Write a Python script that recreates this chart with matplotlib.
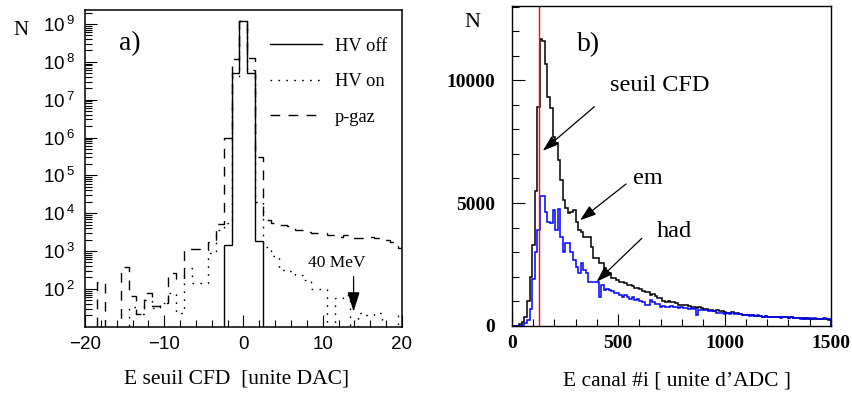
import numpy as np
import matplotlib
matplotlib.use('Agg')
import matplotlib.pyplot as plt
from matplotlib.lines import Line2D
from matplotlib.ticker import FixedLocator, MultipleLocator, NullFormatter, FuncFormatter

plt.rcParams['font.family'] = 'serif'
plt.rcParams['font.serif'] = ['Liberation Serif', 'DejaVu Serif']
plt.rcParams['mathtext.default'] = 'regular'

# ---- panel a) : E seuil CFD, one bin per DAC unit, centres -20..20
dac = np.arange(-20, 21)
hv_off = [0, 0, 0, 0, 0, 0, 0, 0, 0, 0,
          0, 0, 0, 0, 0, 0, 0, 0, 1400, 5e7,
          1.2e9,
          5e7, 1800, 0, 0, 0, 0, 0, 0, 0, 0,
          0, 0, 0, 0, 0, 0, 0, 0, 0, 0]
hv_on = [0, 0, 0, 0, 0, 0, 34, 22, 50, 31,
         43, 80, 23, 350, 147, 147, 890, 3500, 5500, 4e7,
         1.2e9,
         6e7, 2e4, 1250, 720, 310, 300, 235, 175, 100, 100,
         0, 57, 67, 0, 23, 21, 23, 0, 0, 23]
p_gaz = [0, 0, 150, 0, 0, 380, 66, 22, 80, 35,
         43, 270, 180, 1150, 1100, 1050, 1750, 5300, 1e6, 1.2e8,
         1.2e9,
         1.3e8, 3e5, 6500, 5500, 5000, 4500, 3500, 3200, 3000, 3000,
         2600, 2300, 2600, 2200, 2200, 2400, 2200, 2000, 1700, 1200]

# ---- panel b) : E canal #i, 12 ADC units per bin, 0..1500
adc_bin = 12
em = [0, 0, 0, 50, 150, 350, 1000, 2000, 3300, 5500,
      8900, 11700, 11600, 10650, 9330, 8860, 7700, 7430, 6750, 5940,
      5120, 4800, 4580, 4650, 4710, 4240, 3900, 3800, 3630, 3630,
      3600, 3220, 2750, 2750, 2540, 2540, 2350, 2150, 2135, 1930,
      1930, 1850, 1790, 1790, 1760, 1660, 1660, 1620, 1520, 1520,
      1500, 1400, 1385, 1360, 1250, 1280, 1230, 1115, 1115, 1000,
      980, 990, 960, 950, 930, 860, 845, 830, 850, 820,
      760, 750, 740, 770, 720, 700, 680, 640, 650, 620,
      630, 600, 590, 540, 530, 520, 540, 510, 500, 460,
      440, 430, 440, 420, 430, 410, 400, 380, 370, 380,
      365, 360, 370, 350, 360, 340, 350, 340, 330, 340,
      320, 300, 310, 300, 290, 300, 280, 290, 280, 270,
      280, 265, 270, 260, 250]
had = [0, 0, 0, 0, 30, 100, 250, 700, 1900, 3000,
       3900, 5300, 5300, 4650, 4240, 4200, 4700, 3900, 4740, 3600,
       3015, 3360, 3360, 3015, 2680, 2400, 2135, 2540, 2270, 2135,
       1790, 1790, 1790, 1790, 1180, 1660, 1455, 1500, 1455, 1400,
       1320, 1350, 1250, 1180, 1250, 1180, 1100, 1150, 1050, 1080,
       1000, 950, 845, 850, 1050, 950, 900, 880, 775, 800,
       775, 760, 790, 750, 775, 740, 760, 710, 720, 700,
       710, 690, 450, 640, 660, 630, 640, 600, 620, 600,
       520, 500, 530, 490, 510, 480, 500, 470, 490, 460,
       440, 420, 450, 410, 430, 400, 420, 390, 370, 380,
       350, 370, 340, 360, 350, 330, 360, 340, 320, 350,
       330, 300, 320, 290, 310, 280, 300, 270, 310, 280,
       290, 260, 300, 270, 260]
cfd_threshold = 130

fig = plt.figure(figsize=(8.53, 3.95), dpi=100)

# ================= panel a =================
ax1 = fig.add_axes([0.0996, 0.1729, 0.3716, 0.8018])
edges_a = np.append(dac - 0.5, dac[-1] + 0.5)


def clip_zero(v):
    v = np.asarray(v, dtype=float)
    return np.where(v > 0, v, 1.0)


ax1.stairs(clip_zero(p_gaz), edges_a, baseline=None, color='black', lw=1.0,
           linestyle=(0, (7, 6)))
ax1.stairs(clip_zero(hv_on), edges_a, baseline=None, color='black', lw=1.0,
           linestyle=(0, (1.2, 4.5)))
ax1.stairs(clip_zero(hv_off), edges_a, baseline=None, color='black', lw=1.0)

ax1.set_yscale('log')
ax1.set_xlim(-20, 20)
ax1.set_ylim(10, 10 ** 9.37)
ax1.yaxis.set_major_locator(FixedLocator([10.0 ** k for k in range(2, 10)]))
ax1.yaxis.set_minor_locator(FixedLocator(
    [m * 10.0 ** k for k in range(1, 10) for m in range(2, 10)]))
ax1.yaxis.set_major_formatter(FuncFormatter(
    lambda v, p: r'$10^{\,%d}$' % round(np.log10(v))))
ax1.yaxis.set_minor_formatter(NullFormatter())
ax1.xaxis.set_major_locator(MultipleLocator(10))
ax1.xaxis.set_minor_locator(MultipleLocator(2))
ax1.tick_params(which='both', direction='in', width=0.8,
                labelsize=13.5, labelfontfamily='Liberation Sans')
ax1.tick_params(which='major', length=8.5)
ax1.tick_params(which='minor', length=5)
ax1.tick_params(axis='y', pad=7)
ax1.tick_params(axis='x', pad=6.5)
for s in ax1.spines.values():
    s.set_linewidth(1.1)

ax1.set_xlabel('E seuil CFD  [unite DAC]', fontsize=15.5)
ax1.xaxis.set_label_coords(0.479, -0.135)

handles = [Line2D([], [], color='black', lw=1.0),
           Line2D([], [], color='black', lw=1.0, linestyle=(0, (1.2, 4.5))),
           Line2D([], [], color='black', lw=1.0, linestyle=(0, (7, 6)))]
ax1.legend(handles, ['HV off', 'HV on', 'p-gaz'], loc='upper left',
           bbox_to_anchor=(0.584, 0.912), frameon=False, fontsize=13.3,
           handlelength=2.8, handletextpad=0.7, labelspacing=1.0,
           borderpad=0, borderaxespad=0)

ax1.text(0.142, 0.895, 'a)', transform=ax1.transAxes, fontsize=20,
         ha='center', va='center')
fig.text(0.0246, 0.924, 'N', fontsize=15, ha='center', va='center')

ax1.annotate('', xy=(13.9, 25), xytext=(13.9, 212),
             arrowprops=dict(arrowstyle='-|>,head_length=0.8,head_width=0.25',
                             color='black', lw=0.9, shrinkA=0, shrinkB=0,
                             mutation_scale=15))
ax1.text(8.2, 377, '40 MeV', fontsize=12.5, ha='left', va='baseline')

# ================= panel b =================
ax2 = fig.add_axes([0.5999, 0.1754, 0.3743, 0.8094])
edges_b = np.arange(0, adc_bin * len(em) + 1, adc_bin)

ax2.stairs(em, edges_b, color='black', lw=1.1)
ax2.stairs(had, edges_b, color='#0000ff', lw=1.1)
ax2.axvline(cfd_threshold, color='#ff0000', lw=1.0)

ax2.set_xlim(0, 1500)
ax2.set_ylim(0, 13030)
ax2.set_xticks([0, 500, 1000, 1500])
ax2.set_xticklabels(['0', '500', '1000', '1500'], fontsize=14, fontweight='bold')
ax2.set_yticks([0, 5000, 10000])
ax2.set_yticklabels(['0', '5000', '10000'], fontsize=14, fontweight='bold')
ax2.xaxis.set_minor_locator(MultipleLocator(100))
ax2.yaxis.set_minor_locator(MultipleLocator(1000))
ax2.tick_params(which='both', direction='in', width=0.8)
ax2.tick_params(which='major', length=9)
ax2.tick_params(which='minor', length=5)
ax2.tick_params(axis='y', pad=12)
ax2.tick_params(axis='x', pad=6.5)
for s in ax2.spines.values():
    s.set_linewidth(1.0)

ax2.set_xlabel('E canal #i [ unite d\u2019ADC ]', fontsize=15.5)
ax2.xaxis.set_label_coords(0.519, -0.142)

ax2.text(0.2405, 0.878, 'b)', transform=ax2.transAxes, fontsize=20,
         ha='center', va='center')
fig.text(0.5533, 0.944, 'N', fontsize=16, ha='center', va='center')

arrow_b = dict(arrowstyle='-|>,head_length=0.65,head_width=0.22',
               color='black', lw=0.9, shrinkA=0, shrinkB=0, mutation_scale=15)
ax2.annotate('', xy=(146, 7130), xytext=(388, 8925), arrowprops=arrow_b)
ax2.annotate('', xy=(321, 4300), xytext=(537, 5775), arrowprops=arrow_b)
ax2.annotate('', xy=(399, 1795), xytext=(611, 3560), arrowprops=arrow_b)
ax2.text(462, 9577, 'seuil CFD', fontsize=17.5, ha='left', va='baseline')
ax2.text(571, 5775, 'em', fontsize=17.5, ha='left', va='baseline')
ax2.text(681, 3602, 'had', fontsize=17.5, ha='left', va='baseline')

fig.savefig('out.png', dpi=100)
